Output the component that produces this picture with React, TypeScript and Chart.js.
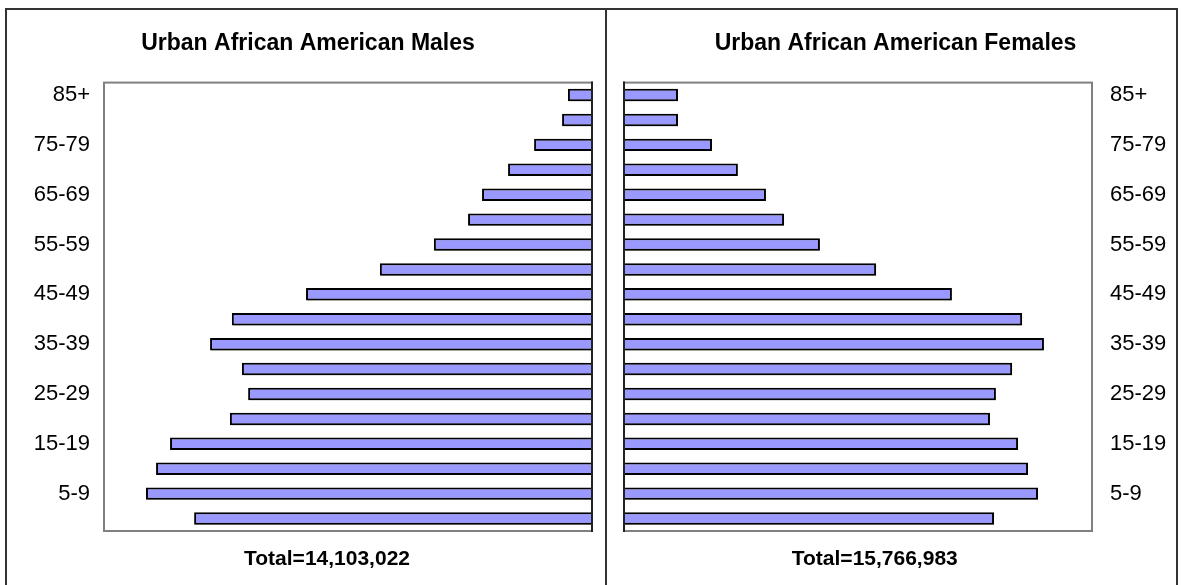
import React, { useEffect, useRef } from 'react';
import { Chart, registerables } from 'chart.js';

Chart.register(...registerables);

// ---- data (bottom to top) ----
const ageGroups = ['0-4', '5-9', '10-14', '15-19', '20-24', '25-29', '30-34', '35-39', '40-44', '45-49', '50-54', '55-59', '60-64', '65-69', '70-74', '75-79', '80-84', '85+'];
const maleValues = [1223000, 1371000, 1340000, 1297000, 1113000, 1057000, 1076000, 1174000, 1107000, 879000, 652000, 486000, 381000, 338000, 258000, 178000, 92000, 74000];
const femaleValues = [1186000, 1327000, 1295000, 1263000, 1173000, 1192000, 1244000, 1346000, 1276000, 1051000, 808000, 628000, 513000, 455000, 365000, 282000, 173000, 173000];
const maleTitle = 'Urban African American Males';
const femaleTitle = 'Urban African American Females';
const maleTotal = 'Total=14,103,022';
const femaleTotal = 'Total=15,766,983';
const axisMax = 1500000;

const FONT = "'Liberation Sans', Arial, Helvetica, sans-serif";
Chart.defaults.font.family = FONT;
Chart.defaults.color = '#000';

const framePlugin = {
  id: 'pyramidFrame',
  beforeDatasetsDraw(chart: any) {
    const { ctx, chartArea: a } = chart;
    ctx.save();
    ctx.strokeStyle = '#808080';
    ctx.lineWidth = 2;
    ctx.strokeRect(a.left, a.top, a.right - a.left, a.bottom - a.top);
    ctx.restore();
    // light drop shadow under the bars
    ctx.save();
    ctx.shadowColor = 'rgba(0,0,0,0.28)';
    ctx.shadowOffsetX = 1.5;
    ctx.shadowOffsetY = 2;
    ctx.shadowBlur = 0;
  },
  afterDatasetsDraw(chart: any, _args: any, opts: any) {
    const { ctx, chartArea: a } = chart;
    ctx.restore();
    const x0 = chart.scales.x.getPixelForValue(0);
    ctx.save();
    ctx.strokeStyle = '#222';
    ctx.lineWidth = 2;
    ctx.beginPath();
    ctx.moveTo(x0, a.top - 1);
    ctx.lineTo(x0, a.bottom + 1);
    ctx.stroke();
    if (opts && opts.total) {
      ctx.fillStyle = '#000';
      ctx.font = `bold 21px ${FONT}`;
      ctx.textAlign = 'center';
      ctx.textBaseline = 'middle';
      const cx = (chart.width / 2 + (a.left + a.right) / 2) / 2;
      ctx.fillText(opts.total, cx, a.bottom + 28);
    }
    ctx.restore();
  },
};

type HalfProps = {
  side: 'left' | 'right';
  values: number[];
  title: string;
  total: string;
  box: { left: number; top: number; width: number; height: number };
};

function PyramidHalf({ side, values, title, total, box }: HalfProps) {
  const ref = useRef<HTMLCanvasElement | null>(null);
  useEffect(() => {
    if (!ref.current) return;
    const isLeft = side === 'left';
    const chart = new Chart(ref.current, {
      type: 'bar',
      data: {
        labels: ageGroups,
        datasets: [
          {
            data: values,
            backgroundColor: '#9999FF',
            borderColor: '#000000',
            borderWidth: 2,
            categoryPercentage: 1,
            barPercentage: 0.5,
          },
        ],
      },
      plugins: [framePlugin],
      options: {
        indexAxis: 'y',
        animation: false,
        responsive: true,
        maintainAspectRatio: false,
        layout: {
          padding: isLeft
            ? { left: 17, right: 13, top: 0, bottom: 54 }
            : { left: 17, right: 9, top: 0, bottom: 54 },
        },
        scales: {
          x: {
            display: false,
            min: 0,
            max: axisMax,
            reverse: isLeft,
          },
          y: {
            position: isLeft ? 'left' : 'right',
            reverse: true,
            grid: { display: false, drawTicks: false },
            border: { display: false },
            afterFit: (scale: any) => {
              scale.width = isLeft ? 80 : 75;
            },
            ticks: {
              autoSkip: false,
              padding: isLeft ? 14 : 18,
              color: '#000',
              font: { size: 22, family: FONT },
              callback: (_v: any, i: number) => (i % 2 === 1 ? ageGroups[i] : ''),
            },
          },
        },
        plugins: {
          legend: { display: false },
          tooltip: { enabled: false },
          title: {
            display: true,
            text: title,
            color: '#000',
            font: { size: 23, weight: 'bold', family: FONT },
            padding: { top: 20, bottom: 25 },
          },
          pyramidFrame: { total },
        } as any,
      },
    } as any);
    return () => chart.destroy();
  }, [side, values, title, total]);

  return (
    <div
      style={{
        position: 'absolute',
        left: box.left,
        top: box.top,
        width: box.width,
        height: box.height,
      }}
    >
      <canvas ref={ref} />
    </div>
  );
}

export default function App() {
  return (
    <div
      style={{
        position: 'absolute',
        left: 0,
        top: 0,
        width: 1182,
        height: 585,
        overflow: 'hidden',
        background: '#fff',
      }}
    >
      <div
        style={{
          position: 'absolute',
          left: 5,
          top: 8,
          width: 602,
          height: 600,
          boxSizing: 'border-box',
          border: '2px solid #333',
        }}
      />
      <div
        style={{
          position: 'absolute',
          left: 605,
          top: 8,
          width: 573,
          height: 600,
          boxSizing: 'border-box',
          border: '2px solid #333',
        }}
      />
      <PyramidHalf
        side="left"
        values={maleValues}
        title={maleTitle}
        total={maleTotal}
        box={{ left: 7, top: 10, width: 598, height: 575 }}
      />
      <PyramidHalf
        side="right"
        values={femaleValues}
        title={femaleTitle}
        total={femaleTotal}
        box={{ left: 607, top: 10, width: 569, height: 575 }}
      />
    </div>
  );
}
